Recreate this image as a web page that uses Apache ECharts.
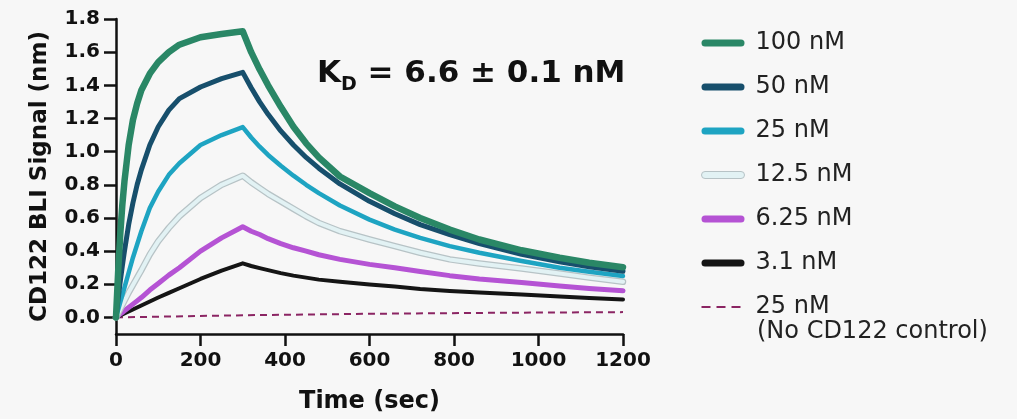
<!DOCTYPE html>
<html>
<head>
<meta charset="utf-8">
<script src="https://cdn.jsdelivr.net/npm/echarts@6/dist/echarts.min.js"></script>
<style>html,body{margin:0;padding:0;background:#f7f7f7;}#c{width:1017px;height:419px;}</style>
</head>
<body>
<div id="c"></div>
<script>
const timeSec = [0,5,10,15,20,30,40,50,60,80,100,125,150,200,250,300,320,340,360,390,420,450,480,530,600,660,720,790,860,960,1050,1120,1200];
const nM100 = [0,0.27,0.50,0.68,0.82,1.04,1.19,1.29,1.37,1.47,1.54,1.60,1.645,1.69,1.71,1.726,1.60,1.495,1.40,1.27,1.15,1.05,0.965,0.85,0.75,0.67,0.60,0.53,0.47,0.405,0.36,0.33,0.303];
const nM50 = [0,0.11,0.215,0.31,0.40,0.56,0.69,0.80,0.89,1.04,1.15,1.25,1.32,1.39,1.44,1.478,1.385,1.30,1.225,1.125,1.04,0.965,0.90,0.805,0.70,0.625,0.56,0.50,0.445,0.38,0.335,0.305,0.278];
const nM25 = [0,0.045,0.09,0.135,0.18,0.27,0.36,0.44,0.52,0.66,0.76,0.86,0.93,1.04,1.10,1.148,1.085,1.03,0.98,0.915,0.855,0.80,0.75,0.675,0.59,0.53,0.48,0.43,0.39,0.34,0.30,0.275,0.25];
const nM12_5 = [0,0.025,0.05,0.075,0.10,0.15,0.195,0.24,0.285,0.38,0.46,0.54,0.61,0.72,0.80,0.855,0.815,0.78,0.745,0.70,0.655,0.61,0.57,0.52,0.47,0.43,0.39,0.35,0.325,0.295,0.265,0.24,0.215];
const nM6_25 = [0,0.01,0.02,0.03,0.04,0.06,0.08,0.10,0.12,0.165,0.205,0.255,0.30,0.40,0.48,0.547,0.52,0.50,0.475,0.445,0.42,0.40,0.378,0.35,0.32,0.30,0.277,0.252,0.232,0.21,0.19,0.175,0.161];
const nM3_1 = [0,0.006,0.012,0.018,0.024,0.036,0.048,0.06,0.072,0.096,0.12,0.148,0.176,0.232,0.282,0.326,0.31,0.297,0.285,0.267,0.252,0.24,0.228,0.215,0.198,0.186,0.172,0.16,0.15,0.138,0.126,0.117,0.108];
const controlTime = [0,300,600,900,1200];
const control25 = [0,0.013,0.022,0.028,0.032];
const yTicks = [0,0.2,0.4,0.6,0.8,1.0,1.2,1.4,1.6,1.8];
const legendNames = ['100 nM','50 nM','25 nM','12.5 nM','6.25 nM','3.1 nM','control'];

function zip(t, v){ return t.map((x,i)=>[x, v[i]]); }

const chart = echarts.init(document.getElementById('c'), null, {renderer:'canvas'});
function line(name, data, color, width, extra){
  return Object.assign({
    name: name, type:'line', data: data, symbol:'none', smooth:false,
    lineStyle:{color: color, width: width, cap:'round', join:'round'},
    itemStyle:{color: color}, animation:false
  }, extra||{});
}
const pill = 'path://M3.5,0 H39.5 A3.5,3.5 0 0 1 39.5,7 H3.5 A3.5,3.5 0 0 1 3.5,0 Z';
const dashIcon = 'path://M0,0 h0.01 v0.01 h-0.01 Z M0,2.6 h9 v1.8 h-9 Z M15,2.6 h9 v1.8 h-9 Z M30,2.6 h9 v1.8 h-9 Z M42.99,6.99 h0.01 v0.01 h-0.01 Z';
const legendColors = {'100 nM':'#2a8766','50 nM':'#174f6c','25 nM':'#1ea4c2','12.5 nM':'#e2f2f4','6.25 nM':'#b553d4','3.1 nM':'#151515','control':'#8b2563'};
const option = {
  backgroundColor:'#f7f7f7',
  animation:false,
  grid:{left:116, right:394, top:19, bottom:85},
  xAxis:{
    type:'value', min:0, max:1200, interval:200,
    axisLine:{show:true, onZero:false, lineStyle:{color:'#111', width:2.5}},
    axisTick:{show:true, length:12, lineStyle:{color:'#111', width:2.5}},
    axisLabel:{color:'#111', fontFamily:'DejaVu Sans', fontWeight:'bold', fontSize:20, margin:17, formatter:(v)=>String(v)},
    splitLine:{show:false},
    name:'Time (sec)', nameLocation:'middle', nameGap:56,
    nameTextStyle:{color:'#111', fontFamily:'DejaVu Sans', fontWeight:'bold', fontSize:24}
  },
  yAxis:{
    type:'value', min:-0.1, max:1.8,
    axisLine:{show:true, lineStyle:{color:'#111', width:2.5}},
    axisTick:{show:true, length:12, customValues:yTicks, lineStyle:{color:'#111', width:2.5}},
    axisLabel:{color:'#111', fontFamily:'DejaVu Sans', fontWeight:'bold', fontSize:20, margin:16,
      customValues:yTicks, formatter:(v)=>v.toFixed(1)},
    splitLine:{show:false},
    name:'CD122 BLI Signal (nm)', nameLocation:'middle', nameGap:64, nameRotate:90,
    nameTextStyle:{color:'#111', fontFamily:'DejaVu Sans', fontWeight:'bold', fontSize:23}
  },
  legend:{
    orient:'vertical', left:696, top:26, itemWidth:43, itemHeight:7, itemGap:20,
    data: legendNames.map(n=>({
      name:n,
      icon: n==='control' ? dashIcon : pill,
      itemStyle: n==='12.5 nM' ? {color:legendColors[n], borderColor:'#b7c3c6', borderWidth:1} : {color:legendColors[n], borderWidth:0}
    })),
    formatter:(n)=> n==='control' ? '25 nM' : n,
    textStyle:{color:'#222', fontFamily:'DejaVu Sans', fontSize:24, lineHeight:24, padding:[0,0,0,6]}
  },
  graphic:[
    {type:'text', left:317, top:58, style:{
      text:'{k|K}{d|D}{t| = 6.6 ± 0.1 nM}',
      rich:{
        k:{fontFamily:'DejaVu Sans', fontWeight:'bold', fontSize:31, lineHeight:31, verticalAlign:'top', fill:'#111'},
        d:{fontFamily:'DejaVu Sans', fontWeight:'bold', fontSize:19, lineHeight:19, verticalAlign:'top', padding:[18,0,0,0], fill:'#111'},
        t:{fontFamily:'DejaVu Sans', fontWeight:'bold', fontSize:31, lineHeight:31, verticalAlign:'top', fill:'#111'}
      }}},
    {type:'text', left:757, top:320, style:{text:'(No CD122 control)', fontFamily:'DejaVu Sans', fontSize:24, fill:'#222'}}
  ],
  series:[
    line('control', zip(controlTime, control25), '#8b2563', 2, {lineStyle:{color:'#8b2563', width:2, type:[7,5]}}),
    line('3.1 nM', zip(timeSec, nM3_1), '#151515', 4),
    line('6.25 nM', zip(timeSec, nM6_25), '#b553d4', 5),
    line('12.5 border', zip(timeSec, nM12_5), '#b7c3c6', 6.5, {legendHoverLink:false, silent:true}),
    line('12.5 nM', zip(timeSec, nM12_5), '#e2f2f4', 4),
    line('25 nM', zip(timeSec, nM25), '#1ea4c2', 4.5),
    line('50 nM', zip(timeSec, nM50), '#174f6c', 5),
    line('100 nM', zip(timeSec, nM100), '#2a8766', 6.5)
  ]
};
chart.setOption(option);
</script>
</body>
</html>
